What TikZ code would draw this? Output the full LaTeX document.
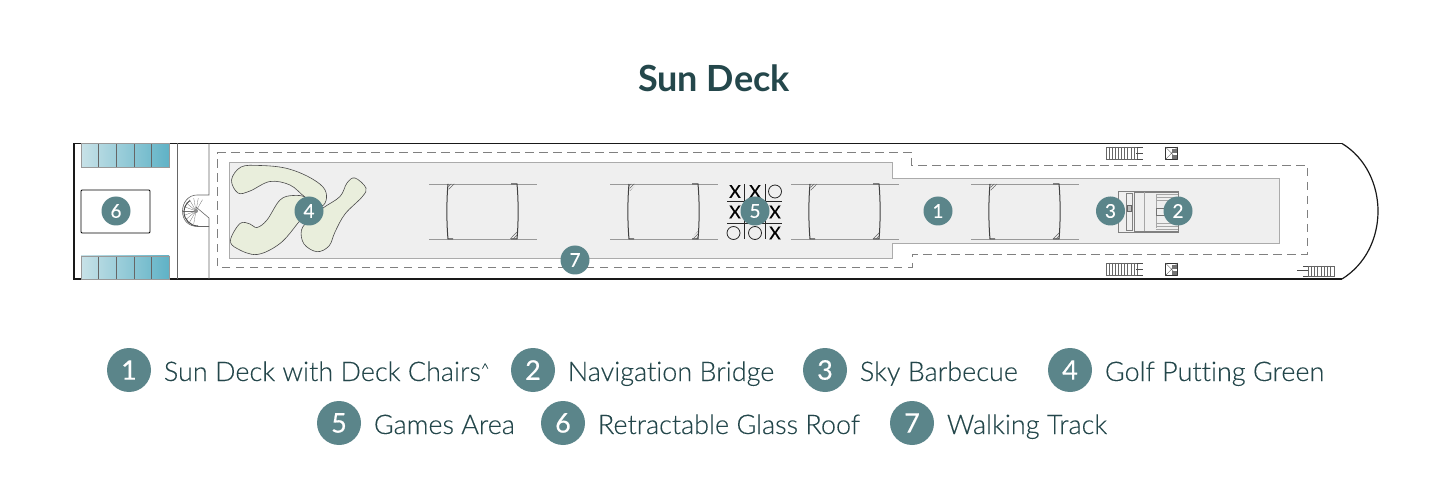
\documentclass[tikz,border=0pt]{standalone}
\usepackage{fontspec}
\setmainfont[Ligatures=NoCommon]{Lato}
\newfontfamily\lightfont[Ligatures=NoCommon, FakeBold=0.2]{Lato Light}
\newfontfamily\digitfont[FakeBold=0.3]{Lato}
\usepackage{xcolor}
\usetikzlibrary{patterns}
\definecolor{tealdark}{HTML}{24474B}
\definecolor{tealbadge}{HTML}{5B858A}
\definecolor{deckgrey}{HTML}{EFEFEF}
\definecolor{deckline}{HTML}{ABABAB}
\definecolor{greenpatch}{HTML}{E9EEDC}
\definecolor{glassa}{HTML}{C8E2E8}
\definecolor{glassb}{HTML}{5FB2C6}
\tikzstyle{hull} = [draw=black!90, line width=1.2pt]
\tikzstyle{trackline} = [draw=black!50, line width=.7pt, dash pattern=on 8.5pt off 5.5pt]
\tikzstyle{thinline} = [draw=black!60, line width=.6pt]
\tikzstyle{badge} = [circle, fill=tealbadge, text=white, minimum size=29pt, inner sep=0pt, font=\digitfont\fontsize{19}{19}\selectfont]
\tikzstyle{keybadge} = [circle, fill=tealbadge, text=white, minimum size=44pt, inner sep=0pt, font=\digitfont\fontsize{27}{27}\selectfont]
\tikzstyle{keytext} = [text=tealdark, inner sep=0pt, font=\lightfont\fontsize{27}{27}\selectfont, anchor=base west, xshift=12.5pt, yshift=-11pt]
\tikzstyle{patch} = [draw=black!70, fill=greenpatch, line width=.6pt]
\tikzstyle{game} = [text=black, inner sep=0pt, font=\digitfont\fontsize{18}{18}\selectfont]
\tikzstyle{gamering} = [draw=black!85, circle, line width=.8pt, minimum size=13pt, inner sep=0pt]
\tikzstyle{hatching} = [pattern=north east lines, pattern color=black!60]

\begin{document}
\begin{tikzpicture}[x=1pt, y=-1pt]
    \useasboundingbox (0,0) rectangle (1440,494);
    \fill[white] (0,0) rectangle (1440,494);

    \node[text=tealdark, font=\fontsize{36}{36}\selectfont\bfseries] (title) at (714,78) {Sun Deck};

    % deck surface
    \draw[draw=deckline, fill=deckgrey, line width=.8pt] (229,162.5) -- (892,162.5) -- (892,178.5) -- (1279,178.5)
        -- (1279,243) -- (892,243) -- (892,258) -- (229,258) -- cycle;
    \draw[trackline] (217,152) -- (911,152) -- (911,165) -- (1307,165) -- (1307,254.5) -- (912,254.5) -- (912,267) -- (217,267) -- cycle;

    % hull
    \draw[hull] (1342,143.5) -- (74,143.5) -- (74,279) -- (1342,279);
    \draw[hull] (1342,143.5) .. controls (1366,158) and (1378,185) .. (1378,211) .. controls (1378,238) and (1366,264) .. (1342,279);
    \draw[thinline] (177,143.5) -- (177,279);
    \draw[thinline] (209,143.5) -- (209,195) -- (197,195) .. controls (188,195) and (182.5,203) .. (182.5,211)
        .. controls (182.5,221) and (189,226.5) .. (198,226.5) -- (209,226.5) -- (209,279);

    % spiral stairs
    \draw[thinline] (196,207) -- (209,218) -- (209,226.5);
    \foreach \ang in {100,120,...,300}
        \draw[black!55, line width=.3pt] (196,211) -- ++(\ang:13);
    \fill[black!45] (196,211) circle (2pt);
    \draw[black!70, line width=1pt] (198,226) arc (90:235:14);

    % glass panels
    \foreach \py/\qy in {143.5/167, 256/279} {
        \shade[left color=glassa, right color=glassb] (81,\py) rectangle (169,\qy);
        \foreach \i in {0,...,5}
            \draw[black!60, line width=.6pt] (81+17.6*\i,\py) -- (81+17.6*\i,\qy);
        \draw[black!40, line width=.5pt] (81,\py) rectangle (169,\qy);
    }
    \draw[black, line width=.8pt, rounded corners=1pt] (81,190) rectangle (150,233);

    % putting green
    \draw[patch] plot[smooth cycle, tension=.6] coordinates {(231.5,180) (241,167) (260,165.5) (285,168) (307,176) (323,187) (326.5,198)
        (321,206) (305,197) (290,185) (270,181.5) (250,191) (238,193)};
    \draw[patch] plot[smooth cycle, tension=.6] coordinates {(230.5,240) (240,223.5) (250,224) (257,227.5) (267,220) (280,200) (293,195.5)
        (306,198) (306,212) (298,223) (280,243.5) (257,254.5) (237,248.5)};
    \draw[patch] plot[smooth cycle, tension=.6] coordinates {(355,178) (366,188) (362,197) (345,214) (335,232) (329,246) (317,251.7) (304,244)
        (301.5,230) (310,219) (323,208) (340,196.5) (347,183)};

    % shade frames
    \foreach \fx in {429,610,791,971} {
        \draw[black!40, line width=.5pt] (\fx,184) -- (\fx+107.5,184);
        \draw[black!40, line width=.5pt] (\fx,239) -- (\fx+107.5,239);
        \draw[black!75, line width=1pt] (\fx+19,184) .. controls (\fx+17.5,200) and (\fx+17.5,223) .. (\fx+19,239) -- (\fx+24,239);
        \draw[black!75, line width=1pt] (\fx+82,184) -- (\fx+88,184) .. controls (\fx+89.5,200) and (\fx+89.5,223) .. (\fx+88,239) -- (\fx+82,239);
        \fill[hatching] (\fx+19,184) -- (\fx+26,184) -- (\fx+20,191) -- cycle;
        \fill[hatching] (\fx+88,239) -- (\fx+81,239) -- (\fx+88,231) -- cycle;
    }

    % games area
    \draw[black!85, line width=.8pt] (727,201) -- (782,201) (727,223) -- (782,223)
        (744,184) -- (744,239) (765,184) -- (765,239);
    \node[game] (gamea) at (735,191.5) {X};
    \node[game] (gameb) at (755,191.5) {X};
    \node[gamering] (gamec) at (775,191.5) {};
    \node[game] (gamed) at (735,212) {X};
    \node[game] (gamee) at (775,212) {X};
    \node[gamering] (gamef) at (733.5,233) {};
    \node[gamering] (gameg) at (755,233) {};
    \node[game] (gameh) at (775,233) {X};

    % navigation bridge
    \draw[black!50, fill=deckgrey, line width=.6pt] (1118.5,191) rectangle (1178,232);
    \draw[black!50, line width=.6pt] (1126,193) rectangle (1132.5,230.5) (1134,192) rectangle (1178,231);
    \draw[black!35, line width=.5pt] (1144,192) -- (1144,231) (1156,195) -- (1156,228);
    \foreach \by in {194,197,200,223,226,229}
        \draw[black!35, line width=.5pt] (1156,\by) -- (1178,\by);
    \draw[black!55, line width=.6pt] (1165,208) -- (1156,208) -- (1156,215) -- (1165,215);
    \draw[black!60, fill=black!25, line width=.4pt] (1127,205) rectangle (1131.5,211);

    % stairs and lifts
    \foreach \sy in {147,263} {
        \draw[black!60, line width=.5pt] (1106,\sy) rectangle (1137,\sy+12.5);
        \foreach \i in {1,...,9}
            \draw[black!60, line width=.5pt] (1106+3.1*\i,\sy) -- (1106+3.1*\i,\sy+12.5);
        \draw[black!70, line width=.6pt] (1137,\sy) -- (1143,\sy) (1137,\sy+12.5) -- (1143,\sy+12.5) (1136,\sy+6) -- (1142.5,\sy+6);
        \draw[black!80, line width=.7pt] (1165.5,\sy) rectangle (1177.5,\sy+12.5);
        \draw[black!60, line width=.4pt] (1165.5,\sy) -- (1177.5,\sy+12.5) (1165.5,\sy+12.5) -- (1177.5,\sy);
        \fill[black!55] (1172,\sy+2) rectangle (1177,\sy+6);
        \fill[black!55] (1172,\sy+8) rectangle (1177,\sy+12);
    }
    \draw[black!60, line width=.5pt] (1308,266) rectangle (1334,276);
    \foreach \i in {1,...,7}
        \draw[black!60, line width=.5pt] (1308+3.2*\i,266) -- (1308+3.2*\i,276);
    \draw[black!70, line width=.6pt] (1297,270.5) -- (1308,270.5) (1303,266) -- (1308,266) (1303,276) -- (1308,276);

    % numbers on the plan
    \node[badge] (plansix) at (116,211) {6};
    \node[badge] (planfour) at (309,211) {4};
    \node[badge] (planseven) at (575,260) {7};
    \node[badge] (planfive) at (755,211) {5};
    \node[badge] (planone) at (938,211) {1};
    \node[badge] (planthree) at (1110.5,211) {3};
    \node[badge] (plantwo) at (1178,211) {2};

    % key
    \node[keybadge] (keyone) at (129,370) {1};
    \node[keytext] (textone) at (keyone.east) {Sun Deck with Deck Chairs\raisebox{7pt}{\fontsize{15}{15}\selectfont\textasciicircum}};
    \node[keybadge] (keytwo) at (533,370) {2};
    \node[keytext] (texttwo) at (keytwo.east) {Navigation Bridge};
    \node[keybadge] (keythree) at (825,370) {3};
    \node[keytext] (textthree) at (keythree.east) {Sky Barbecue};
    \node[keybadge] (keyfour) at (1070,370) {4};
    \node[keytext] (textfour) at (keyfour.east) {Golf Putting Green};
    \node[keybadge] (keyfive) at (339,423) {5};
    \node[keytext] (textfive) at (keyfive.east) {Games Area};
    \node[keybadge] (keysix) at (563,423) {6};
    \node[keytext] (textsix) at (keysix.east) {Retractable Glass Roof};
    \node[keybadge] (keyseven) at (912,423) {7};
    \node[keytext] (textseven) at (keyseven.east) {Walking Track};
\end{tikzpicture}
\end{document}
